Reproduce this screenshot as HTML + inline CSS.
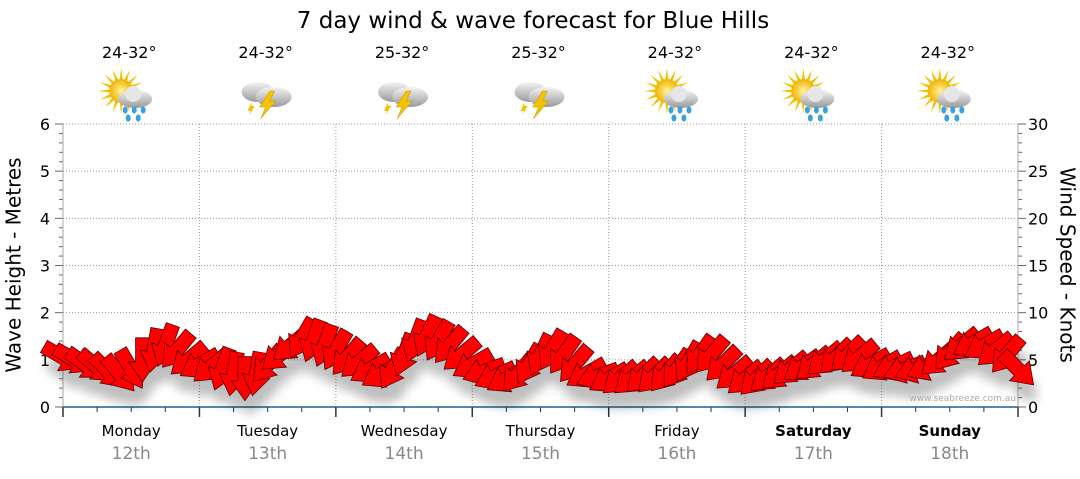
<!DOCTYPE html>
<html><head><meta charset="utf-8"><style>
body{margin:0;background:#fff;width:1080px;height:475px;overflow:hidden;font-family:"DejaVu Sans","Liberation Sans",sans-serif}
</style></head><body>
<svg id="c" width="1080" height="475" style="font-family:'DejaVu Sans','Liberation Sans',sans-serif">
<defs>
<filter id="sh" x="-50%" y="-50%" width="200%" height="200%"><feGaussianBlur stdDeviation="5"/></filter>
<radialGradient id="sun" cx="50%" cy="50%" r="50%"><stop offset="0" stop-color="#fff3a0"/><stop offset="1" stop-color="#f0b400"/></radialGradient>
<linearGradient id="cl" x1="0" y1="0" x2="0" y2="1"><stop offset="0" stop-color="#f4f4f4"/><stop offset="1" stop-color="#9a9a9a"/></linearGradient>
</defs>
<text x="533" y="28" text-anchor="middle" font-size="23" fill="#000">7 day wind &amp; wave forecast for Blue Hills</text>
<g id="grid"></g><g id="axes"></g><g id="icons"></g><g id="shadows" filter="url(#sh)" opacity="0.25"></g><g id="arrows"></g>
<text x="15" y="265" transform="rotate(-90 15 265)" text-anchor="middle" dominant-baseline="middle" font-size="20">Wave Height - Metres</text>
<text x="1066" y="265" transform="rotate(90 1066 265)" text-anchor="middle" dominant-baseline="middle" font-size="20">Wind Speed - Knots</text>
<text x="1016" y="401" text-anchor="end" font-size="9" fill="#aaa">www.seabreeze.com.au</text>
</svg>
<script>
const days=["Monday","Tuesday","Wednesday","Thursday","Friday","Saturday","Sunday"];
const dates=["12th","13th","14th","15th","16th","17th","18th"];
const temps=["24-32°","24-32°","25-32°","25-32°","24-32°","24-32°","24-32°"];
const icons=["sunrain","storm","storm","storm","sunrain","sunrain","sunrain"];
const leftTicks=[0,1,2,3,4,5,6];
const rightTicks=[0,5,10,15,20,25,30];
const waveHeight=[1.05,1.0,0.9,0.85,0.75,0.7,0.8,1.0,1.2,1.3,1.2,1.0,
0.9,0.85,0.8,0.7,0.6,0.7,0.9,1.1,1.3,1.45,1.4,1.3,
1.2,1.05,0.95,0.8,0.7,0.8,1.1,1.4,1.5,1.4,1.3,1.1,
0.9,0.75,0.65,0.6,0.7,0.9,1.1,1.2,1.1,0.9,0.7,0.65,
0.6,0.6,0.6,0.65,0.65,0.7,0.8,0.95,1.1,1.1,0.9,0.7,
0.6,0.6,0.65,0.7,0.8,0.85,0.9,1.0,1.05,1.1,1.05,0.9,
0.85,0.85,0.8,0.8,0.85,1.0,1.15,1.3,1.35,1.3,1.2,1.1,0.8];
const windDir=[30,30,35,40,45,50,60,90,100,110,130,140,
150,140,110,100,90,100,130,140,140,120,110,110,
120,130,140,150,150,120,110,110,115,120,130,140,
150,160,155,150,130,120,115,120,125,130,150,160,
150,140,140,135,135,130,125,120,125,130,135,140,
140,135,140,140,140,145,140,140,135,135,140,150,
150,155,160,160,155,140,130,140,150,150,140,130,45];
const X0=63,X1=1018,Y0=407,Y1=124;
const dayW=(X1-X0)/7;
const y=v=>Y0-(v/6)*(Y0-Y1);
const yr=v=>Y0-(v/30)*(Y0-Y1);
const x=i=>X0+i*((X1-X0)/(waveHeight.length-1));
const NS="http://www.w3.org/2000/svg";
function mk(t,a,p){const e=document.createElementNS(NS,t);for(const k in a)e.setAttribute(k,a[k]);p.appendChild(e);return e;}
const grid=document.getElementById('grid'),axes=document.getElementById('axes'),ic=document.getElementById('icons');
leftTicks.forEach(v=>{if(v>0){const l=mk('line',{x1:X0,x2:X1,y1:y(v),y2:y(v),stroke:'#999','stroke-dasharray':'1,2'},grid);}
const t=mk('text',{x:50,y:y(v)+6,'text-anchor':'end','font-size':16},axes);t.textContent=v;});
rightTicks.forEach(v=>{const t=mk('text',{x:1028,y:yr(v)+6,'font-size':16},axes);t.textContent=v;});
for(let m=0;m<=30;m++){const yy=Y0-m*(Y0-Y1)/30;const len=m%5==0?8:4;mk('line',{x1:X0-len,x2:X0,y1:yy,y2:yy,stroke:'#666'},axes);mk('line',{x1:X1,x2:X1+len,y1:yy,y2:yy,stroke:'#666'},axes);}
mk('line',{x1:X0,x2:X0,y1:Y1,y2:Y0,stroke:'#aaa'},axes);mk('line',{x1:X1,x2:X1,y1:Y1,y2:Y0,stroke:'#aaa'},axes);
for(let d=0;d<=7;d++){const xx=X0+d*dayW;if(d>0&&d<7){const l=mk('line',{x1:xx,x2:xx,y1:Y1,y2:Y0,stroke:'#999','stroke-dasharray':'1,2'},grid);}
mk('line',{x1:xx,x2:xx,y1:Y0,y2:Y0+10,stroke:'#333','stroke-width':1.5},axes);
if(d<7)for(let k=1;k<4;k++)mk('line',{x1:xx+k*dayW/4,x2:xx+k*dayW/4,y1:Y0,y2:Y0+5,stroke:'#333'},axes);}
mk('line',{x1:X0,x2:X1,y1:Y0,y2:Y0,stroke:'#1f5f8b','stroke-width':1.5},axes);
days.forEach((d,i)=>{const cx=X0+(i+.5)*dayW;
const t=mk('text',{x:cx,y:436,'text-anchor':'middle','font-size':15,'font-weight':i>=5?'bold':'normal'},axes);t.textContent=d;
const t2=mk('text',{x:cx,y:459,'text-anchor':'middle','font-size':17,fill:'#888'},axes);t2.textContent=dates[i];
const t3=mk('text',{x:cx-2,y:58,'text-anchor':'middle','font-size':16},ic);t3.textContent=temps[i];
const g=mk('g',{transform:`translate(${cx-2},97)`},ic);
if(icons[i]=="sunrain"){for(let r=0;r<16;r++){const a=r*Math.PI/8;mk('polygon',{points:`${-8+Math.cos(a-.15)*11},${-6+Math.sin(a-.15)*11} ${-8+Math.cos(a)*23},${-6+Math.sin(a)*23} ${-8+Math.cos(a+.15)*11},${-6+Math.sin(a+.15)*11}`,fill:'#f5c000'},g);}
mk('circle',{cx:-8,cy:-6,r:12,fill:'url(#sun)'},g);
mk('ellipse',{cx:6,cy:2,rx:17,ry:9,fill:'url(#cl)'},g);mk('circle',{cx:4,cy:-3,r:8,fill:'#e6e6e6'},g);
[[-4,13],[5,13],[14,13],[-1,21],[9,21]].forEach(p=>mk('ellipse',{cx:p[0],cy:p[1],rx:2.5,ry:3.5,fill:'#3aa0e0'},g));}
else{mk('ellipse',{cx:-8,cy:-5,rx:16,ry:10,fill:'url(#cl)'},g);mk('ellipse',{cx:8,cy:0,rx:18,ry:10,fill:'url(#cl)'},g);
mk('polygon',{points:'4,-6 -6,10 0,10 -5,22 10,4 4,4 9,-6',fill:'#f5c400',stroke:'#c89000','stroke-width':.5},g);
mk('polygon',{points:'-14,5 -18,14 -15,14 -16,18 -11,9 -14,9',fill:'#f5c400'},g);}
});
const sh=document.getElementById('shadows'),ar=document.getElementById('arrows');
const pts="22,0 2,-14 2,-7 -22,-7 -22,7 2,7 2,14";
waveHeight.forEach((h,i)=>{const tr=`translate(${x(i)},${y(h)}) rotate(${windDir[i]})`;
mk('polygon',{points:pts,fill:'#000',transform:`translate(${x(i)+4},${y(h)+16}) rotate(${windDir[i]})`},sh);
const p=mk('polygon',{points:pts,fill:'#ff0000',stroke:'#5a0000','stroke-width':0.8,transform:tr},ar);

});
</script>
</body></html>
